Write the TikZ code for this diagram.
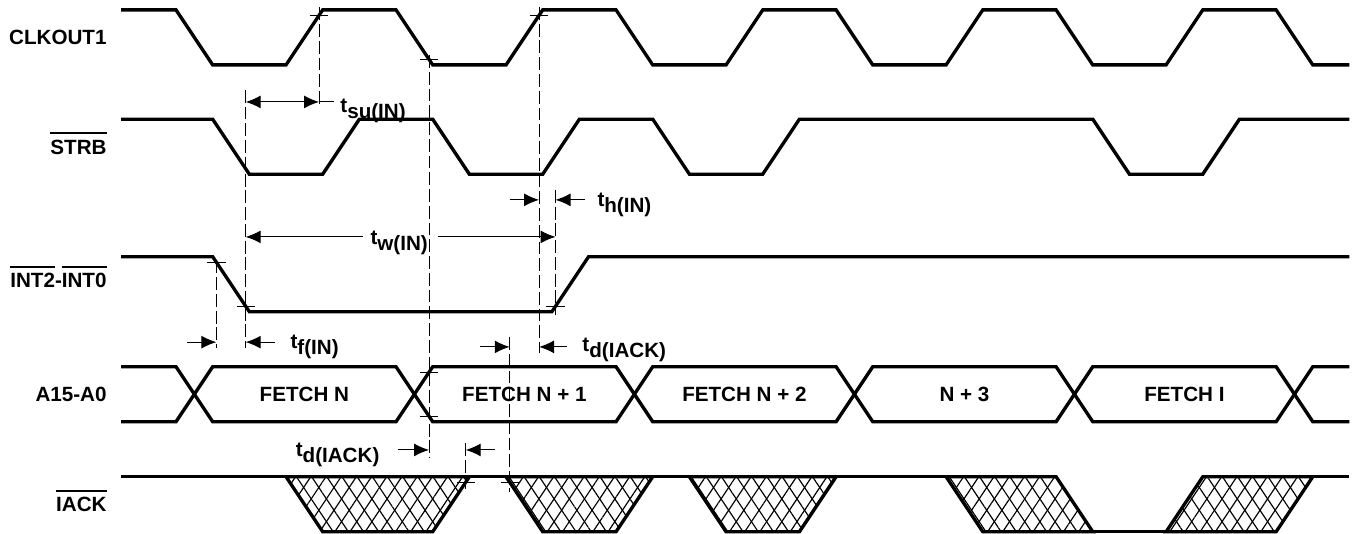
\documentclass[tikz,border=0pt]{standalone}
\usepackage{fontspec}
\setmainfont{Liberation Sans}
\usetikzlibrary{arrows.meta}
\usetikzlibrary{patterns.meta}
\newcommand{\tpar}[1]{t\raisebox{-0.55ex}{#1}}
\newcommand{\ovl}[1]{\vbox{\hrule height 0.9pt\kern 2pt\hbox{#1}}}
\tikzset{
  sig/.style={line width=1.3pt},
  guide/.style={line width=0.4pt, dash pattern=on 5pt off 1.5pt},
  dim/.style={line width=0.4pt},
  edgetick/.style={line width=0.4pt},
  lab/.style={font=\bfseries\fontsize{8}{9.6}\selectfont, inner sep=0pt},
  hatched/.style={preaction={pattern={Lines[angle=56.3,distance=4.9pt,line width=0.45pt]}},
                  preaction={pattern={Lines[angle=-56.3,distance=4.9pt,line width=0.45pt]}}}
}

\begin{document}
\begin{tikzpicture}[scale=.5, >={Latex[length=5.8pt,width=5pt]}]
\useasboundingbox (-3.3,0) rectangle (33.76,-14.535);
% signal names
\node[lab, anchor=base east] (nclk) at (-0.38,-1.22) {CLKOUT1};
\node[lab, anchor=base east] (nstrb) at (-0.38,-4.2) {\ovl{STRB}};
\node[lab, anchor=base east] (nint) at (-0.38,-7.85) {\ovl{INT2}-\ovl{INT0}};
\node[lab, anchor=base east] (naddr) at (-0.38,-10.95) {A15-A0};
\node[lab, anchor=base east] (niack) at (-0.38,-13.95) {\ovl{IACK}};
% CLKOUT1
\draw[sig] (0,-0.27) -- (1.5,-0.27) -- (2.5,-1.77) -- (4.5,-1.77) -- (5.5,-0.27) -- (7.5,-0.27)
  -- (8.5,-1.77) -- (10.5,-1.77) -- (11.5,-0.27) -- (13.5,-0.27) -- (14.5,-1.77) -- (16.5,-1.77)
  -- (17.5,-0.27) -- (19.5,-0.27) -- (20.5,-1.77) -- (22.5,-1.77) -- (23.5,-0.27) -- (25.5,-0.27)
  -- (26.5,-1.77) -- (28.5,-1.77) -- (29.5,-0.27) -- (31.5,-0.27) -- (32.5,-1.77) -- (33.5,-1.77);
% STRB
\draw[sig] (0,-3.25) -- (2.5,-3.25) -- (3.5,-4.75) -- (5.5,-4.75) -- (6.5,-3.25) -- (8.5,-3.25)
  -- (9.5,-4.75) -- (11.5,-4.75) -- (12.5,-3.25) -- (14.5,-3.25) -- (15.5,-4.75) -- (17.5,-4.75)
  -- (18.5,-3.25) -- (26.5,-3.25) -- (27.5,-4.75) -- (29.5,-4.75) -- (30.5,-3.25) -- (33.5,-3.25);
% INT2-INT0
\draw[sig] (0,-7) -- (2.5,-7) -- (3.5,-8.5) -- (11.75,-8.5) -- (12.75,-7) -- (33.5,-7);
% A15-A0
\draw[sig] (0,-10) -- (1.5,-10) -- (2.5,-11.5) -- (7.5,-11.5) -- (8.5,-10) -- (13.5,-10)
  -- (14.5,-11.5) -- (19.5,-11.5) -- (20.5,-10) -- (25.5,-10) -- (26.5,-11.5) -- (31.5,-11.5)
  -- (32.5,-10) -- (33.5,-10);
\draw[sig] (0,-11.5) -- (1.5,-11.5) -- (2.5,-10) -- (7.5,-10) -- (8.5,-11.5) -- (13.5,-11.5)
  -- (14.5,-10) -- (19.5,-10) -- (20.5,-11.5) -- (25.5,-11.5) -- (26.5,-10) -- (31.5,-10)
  -- (32.5,-11.5) -- (33.5,-11.5);
\node[lab, anchor=base] (fn) at (5,-10.95) {FETCH N};
\node[lab, anchor=base] (fn1) at (11,-10.95) {FETCH N + 1};
\node[lab, anchor=base] (fn2) at (17,-10.95) {FETCH N + 2};
\node[lab, anchor=base] (fn3) at (23,-10.95) {N + 3};
\node[lab, anchor=base] (fi) at (29,-10.95) {FETCH I};
% IACK
\draw[sig, hatched] (4.5,-13) -- (5.5,-14.5) -- (8.5,-14.5) -- (9.5,-13) -- cycle;
\draw[sig, hatched] (10.5,-13) -- (11.5,-14.5) -- (13.5,-14.5) -- (14.5,-13) -- cycle;
\draw[sig, hatched] (15.5,-13) -- (16.5,-14.5) -- (18.5,-14.5) -- (19.5,-13) -- cycle;
\draw[sig, hatched] (22.5,-13) -- (23.5,-14.5) -- (26.5,-14.5) -- (25.5,-13) -- cycle;
\draw[sig, hatched] (28.5,-14.5) -- (29.5,-13) -- (32.5,-13) -- (31.5,-14.5) -- cycle;
\draw[sig] (0,-13) -- (25.5,-13);
\draw[sig] (23.5,-14.5) -- (31.5,-14.5);
\draw[sig] (29.5,-13) -- (33.5,-13);
% dashed guides
\draw[guide] (5.4,-0.2) -- (5.4,-2.9);
\draw[guide] (3.4,-2.45) -- (3.4,-9.5);
\draw[guide] (8.4,-1.5) -- (8.4,-12.5);
\draw[guide] (11.4,-0.19) -- (11.4,-9.63);
\draw[guide] (11.85,-5.18) -- (11.85,-8.6);
\draw[guide] (2.6,-7.1) -- (2.6,-9.5);
\draw[guide] (10.6,-9.19) -- (10.6,-13.42);
\draw[guide] (9.4,-12.08) -- (9.4,-13.42);
% ticks
\draw[edgetick] (5.15,-0.42) -- (5.65,-0.42);
\draw[edgetick] (8.15,-1.62) -- (8.65,-1.62);
\draw[edgetick] (11.15,-0.42) -- (11.65,-0.42);
\draw[edgetick] (2.35,-7.15) -- (2.85,-7.15);
\draw[edgetick] (3.15,-8.35) -- (3.65,-8.35);
\draw[edgetick] (11.6,-8.35) -- (12.1,-8.35);
\draw[edgetick] (8.15,-10.15) -- (8.65,-10.15);
\draw[edgetick] (8.15,-11.35) -- (8.65,-11.35);
\draw[edgetick] (9.15,-13.15) -- (9.65,-13.15);
\draw[edgetick] (10.35,-13.15) -- (10.85,-13.15);
% tsu(IN)
\draw[dim, <->] (3.4,-2.78) -- (5.4,-2.78);
\draw[dim] (5.4,-2.78) -- (5.8,-2.78);
\node[lab, anchor=base west] (tsu) at (5.97,-3.08) {\tpar{su(IN)}};
% tw(IN)
\draw[dim, ->] (6.6,-6.46) -- (3.4,-6.46);
\draw[dim, ->] (8.64,-6.46) -- (11.85,-6.46);
\node[lab, anchor=base west] (tw) at (6.79,-6.68) {\tpar{w(IN)}};
% th(IN)
\draw[dim, ->] (10.6,-5.45) -- (11.4,-5.45);
\draw[dim, ->] (12.65,-5.45) -- (11.85,-5.45);
\node[lab, anchor=base west] (th) at (12.98,-5.64) {\tpar{h(IN)}};
% tf(IN)
\draw[dim, ->] (1.81,-9.33) -- (2.6,-9.33);
\draw[dim, ->] (4.2,-9.33) -- (3.4,-9.33);
\node[lab, anchor=base west] (tf) at (4.61,-9.49) {\tpar{f(IN)}};
% td(IACK), upper
\draw[dim, ->] (9.79,-9.46) -- (10.6,-9.46);
\draw[dim, ->] (12.16,-9.46) -- (11.4,-9.46);
\node[lab, anchor=base west] (tda) at (12.57,-9.58) {\tpar{d(IACK)}};
% td(IACK), lower
\draw[dim, ->] (7.55,-12.27) -- (8.4,-12.27);
\draw[dim, ->] (10.2,-12.27) -- (9.4,-12.27);
\node[lab, anchor=base east] (tdb) at (7.06,-12.45) {\tpar{d(IACK)}};
\end{tikzpicture}
\end{document}
